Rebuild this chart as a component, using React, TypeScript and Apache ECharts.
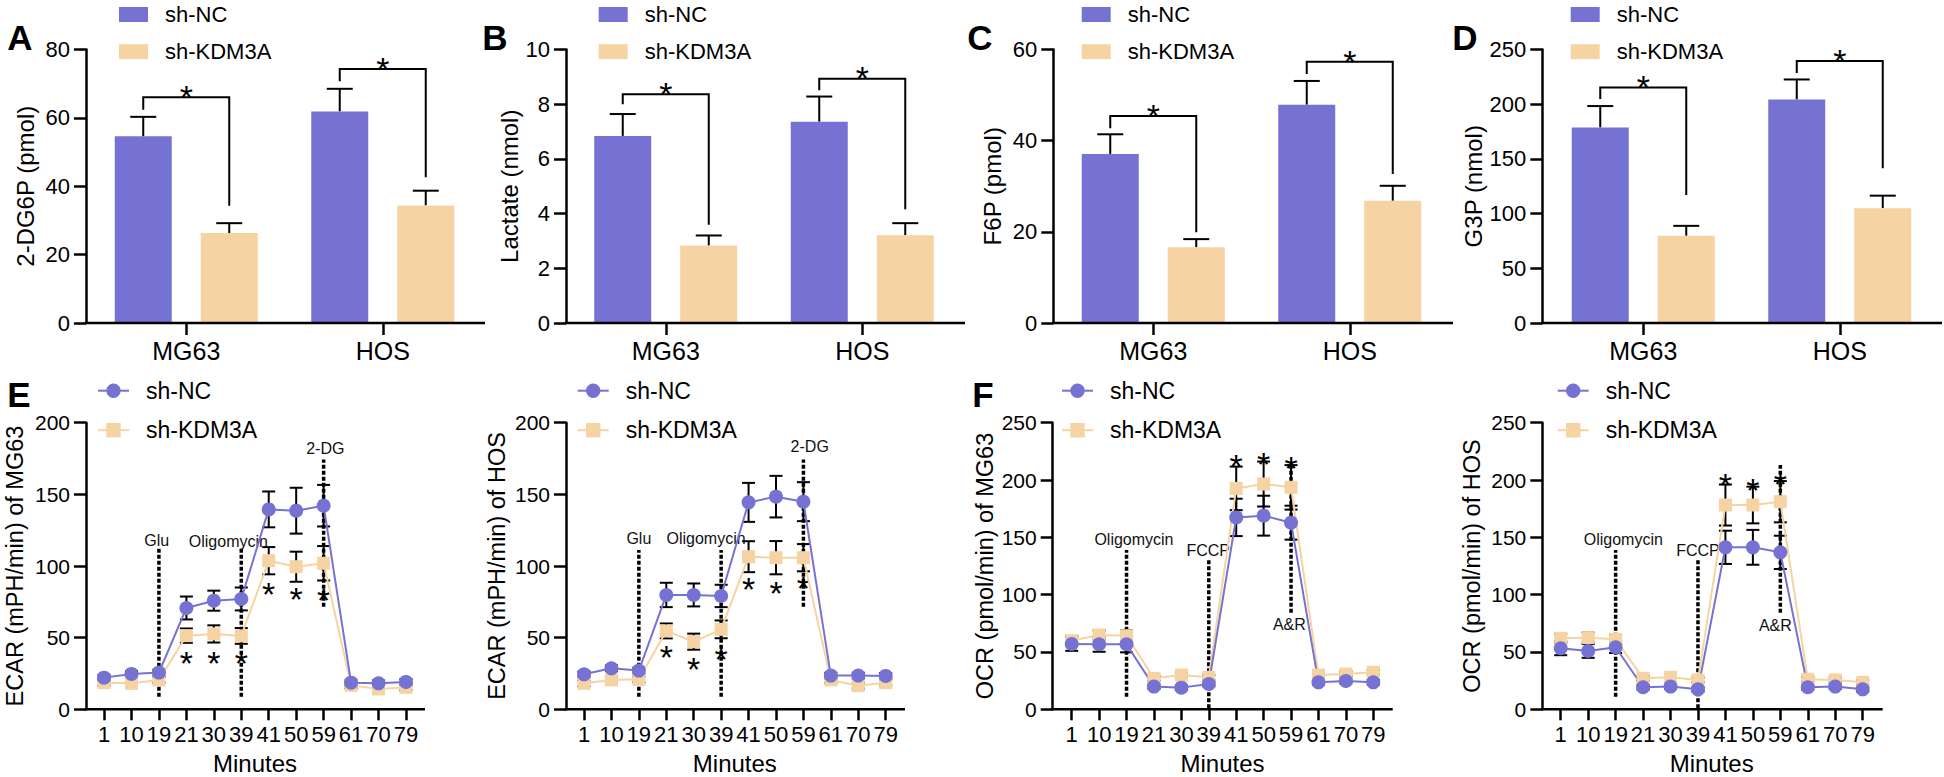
import React, { useEffect, useRef } from 'react';
import * as echarts from 'echarts';

const PURPLE = '#7672D3';
const TAN = '#F5D3A3';
const FONT = 'Arial, "Liberation Sans", Helvetica, sans-serif';
const NARROW = '"Liberation Sans Narrow", "Arial Narrow", Arial, "Liberation Sans", sans-serif';

// ---------- Bar panels (A-D) ----------
const barCats = ['MG63', 'HOS'];

const A_nc = [54.6, 61.9];
const A_ncErr = [5.7, 6.6];
const A_kd = [26.3, 34.4];
const A_kdErr = [2.9, 4.3];
const A_brLeft = [62.4, 70.7];
const A_brTop = [66.0, 74.3];
const A_brRight = [34.3, 42.6];

const B_nc = [6.84, 7.36];
const B_ncErr = [0.8, 0.92];
const B_kd = [2.83, 3.21];
const B_kdErr = [0.37, 0.44];
const B_brLeft = [8.0, 8.51];
const B_brTop = [8.36, 8.93];
const B_brRight = [3.59, 4.16];

const C_nc = [37.1, 47.9];
const C_ncErr = [4.3, 5.2];
const C_kd = [16.6, 26.8];
const C_kdErr = [1.8, 3.3];
const C_brLeft = [42.7, 54.6];
const C_brTop = [45.4, 57.3];
const C_brRight = [19.9, 32.7];

const D_nc = [178.8, 204.4];
const D_ncErr = [19.5, 18.2];
const D_kd = [79.7, 104.9];
const D_kdErr = [9.1, 11.5];
const D_brLeft = [204.7, 228.6];
const D_brTop = [215.3, 239.6];
const D_brRight = [117.1, 141.4];

// ---------- Line panels (E, F) ----------
const minutes = ['1', '10', '19', '21', '30', '39', '41', '50', '59', '61', '70', '79'];

const E1_nc = [22.1, 24.7, 25.6, 70.7, 75.8, 77.0, 139.5, 138.6, 142.1, 18.6, 18.1, 19.1];
const E1_ncErr = [2, 2, 2, 8, 7, 8, 12.5, 16, 14.5, 2, 2, 2];
const E1_kd = [18.6, 18.1, 20.5, 51.4, 52.6, 51.2, 103.7, 99.5, 101.9, 16.7, 14.2, 15.3];
const E1_kdErr = [2, 2, 2, 5, 6, 5.5, 9.5, 10.5, 12, 2, 2, 2];
const E1_stars = [null, null, null, 37.9, 37.9, 37.9, 85.6, 82.1, 82.0, null, null, null];
const E1_vIdx = [2, 5, 8];
const E1_vFrom = [8.8, 8.8, 71.6];
const E1_vTo = [112.3, 112.3, 174.4];
const E1_labText = ['Glu', 'Oligomycin', '2-DG'];
const E1_labX = [1.92, 4.53, 8.06];
const E1_labY = [117.7, 117.0, 182.0];

const E2_nc = [24.4, 28.6, 27.0, 79.8, 79.8, 79.1, 144.4, 148.4, 144.9, 23.5, 23.5, 23.3];
const E2_ncErr = [2, 2, 2, 8.5, 8, 7.8, 13.6, 14.5, 13.6, 2, 2, 2];
const E2_kd = [18.1, 20.5, 20.9, 54.7, 47.2, 55.8, 106.5, 105.8, 105.8, 20.5, 16.5, 18.6];
const E2_kdErr = [2, 2, 2, 5.2, 5.6, 6.2, 10.8, 11.6, 9.5, 2, 2, 2];
const E2_stars = [null, null, null, 41.9, 33.3, 40.2, 89.0, 86.7, 90.2, null, null, null];
const E2_vIdx = [2, 5, 8];
const E2_vFrom = [8.8, 8.8, 71.6];
const E2_vTo = [111.2, 111.2, 174.4];
const E2_labText = ['Glu', 'Oligomycin', '2-DG'];
const E2_labX = [2.0, 4.45, 8.23];
const E2_labY = [119.3, 119.3, 183.3];

const F1_nc = [57.0, 56.7, 56.7, 19.8, 18.9, 22.1, 167.4, 168.9, 162.8, 23.5, 24.7, 23.5];
const F1_ncErr = [6, 6.5, 7, 2, 2, 2, 16.3, 17.4, 14.8, 2, 2, 2];
const F1_kd = [59.9, 64.8, 64.2, 27.0, 29.9, 27.9, 192.7, 196.5, 193.6, 29.9, 30.8, 32.3];
const F1_kdErr = [4, 4, 5, 2, 2, 2, 19, 19.6, 19.4, 2, 2, 2];
const F1_stars = [null, null, null, null, null, null, 218.6, 220.9, 217.4, null, null, null];
const F1_vIdx = [2, 5, 8];
const F1_vFrom = [11, 0.9, 84.3];
const F1_vTo = [139, 130.2, 213];
const F1_labText = ['Oligomycin', 'FCCP', 'A&R'];
const F1_labX = [2.27, 4.98, 7.94];
const F1_labY = [148.5, 138.4, 74.1];

const F2_nc = [53.2, 50.9, 54.1, 19.2, 19.8, 17.4, 141.3, 141.3, 136.9, 19.2, 19.8, 17.4];
const F2_ncErr = [6, 6, 5, 2, 2, 2, 14.5, 15.2, 14.5, 2, 2, 2];
const F2_kd = [61.9, 62.5, 61.0, 27.0, 27.9, 25.6, 178.2, 178.2, 181.1, 26.2, 25.6, 23.5];
const F2_kdErr = [4, 4.5, 4, 2, 2, 2, 17.9, 16, 18, 2, 2, 2];
const F2_stars = [null, null, null, null, null, null, 202.3, 197.7, 202.9, null, null, null];
const F2_vIdx = [2, 5, 8];
const F2_vFrom = [11, 0.9, 84.3];
const F2_vTo = [139, 130.2, 213];
const F2_labText = ['Oligomycin', 'FCCP', 'A&R'];
const F2_labX = [2.28, 5.0, 7.82];
const F2_labY = [148.5, 138.4, 73.5];

// ---------- layout constants ----------
const AXIS_W = 2.5;
const BAR_W = 57;
const BAR_GAP_PX = 29;
const BAR_OFF = (BAR_W + BAR_GAP_PX) / 2;
const CAP_BAR = 26;
const CAP_LINE = 13;
const STAR_FS = 34;
const STAR_SHIFT = STAR_FS * 0.227; // asterisk glyph sits above the central baseline

const barPanels = [
  { left: 88, yOff: 2, ext: 4, max: 80, interval: 20, yName: '2-DG6P (pmol)', nameGap: 49, legendLeft: 119,
    nc: A_nc, ncErr: A_ncErr, kd: A_kd, kdErr: A_kdErr, brL: A_brLeft, brT: A_brTop, brR: A_brRight },
  { left: 567.5, yOff: 1.5, ext: 4.5, max: 10, interval: 2, yName: 'Lactate (nmol)', nameGap: 41, legendLeft: 598.7,
    nc: B_nc, ncErr: B_ncErr, kd: B_kd, kdErr: B_kdErr, brL: B_brLeft, brT: B_brTop, brR: B_brRight },
  { left: 1055, yOff: 1.7, ext: 5, max: 60, interval: 20, yName: 'F6P (pmol)', nameGap: 49, legendLeft: 1081.7,
    nc: C_nc, ncErr: C_ncErr, kd: C_kd, kdErr: C_kdErr, brL: C_brLeft, brT: C_brTop, brR: C_brRight },
  { left: 1545, yOff: 2.7, ext: 4, max: 250, interval: 50, yName: 'G3P (nmol)', nameGap: 55, legendLeft: 1570.7,
    nc: D_nc, ncErr: D_ncErr, kd: D_kd, kdErr: D_kdErr, brL: D_brLeft, brT: D_brTop, brR: D_brRight },
];

const linePanels = [
  { left: 90.3, width: 329.4, yOff: 4.3, ext: 5.3, max: 200, yName: 'ECAR (mPH/min) of MG63', nameGap: 59, legendLeft: 97,
    nc: E1_nc, ncErr: E1_ncErr, kd: E1_kd, kdErr: E1_kdErr, stars: E1_stars,
    vIdx: E1_vIdx, vFrom: E1_vFrom, vTo: E1_vTo, labText: E1_labText, labX: E1_labX, labY: E1_labY },
  { left: 570.3, width: 329.1, yOff: 4.3, ext: 5.6, max: 200, yName: 'ECAR (mPH/min) of HOS', nameGap: 57, legendLeft: 576.7,
    nc: E2_nc, ncErr: E2_ncErr, kd: E2_kd, kdErr: E2_kdErr, stars: E2_stars,
    vIdx: E2_vIdx, vFrom: E2_vFrom, vTo: E2_vTo, labText: E2_labText, labX: E2_labX, labY: E2_labY },
  { left: 1058, width: 329, yOff: 5.3, ext: 5.7, max: 250, yName: 'OCR (pmol/min) of MG63', nameGap: 56, legendLeft: 1061,
    nc: F1_nc, ncErr: F1_ncErr, kd: F1_kd, kdErr: F1_kdErr, stars: F1_stars,
    vIdx: F1_vIdx, vFrom: F1_vFrom, vTo: F1_vTo, labText: F1_labText, labX: F1_labX, labY: F1_labY },
  { left: 1547, width: 329.4, yOff: 4.7, ext: 6.3, max: 250, yName: 'OCR (pmol/min) of HOS', nameGap: 58, legendLeft: 1556.7,
    nc: F2_nc, ncErr: F2_ncErr, kd: F2_kd, kdErr: F2_kdErr, stars: F2_stars,
    vIdx: F2_vIdx, vFrom: F2_vFrom, vTo: F2_vTo, labText: F2_labText, labX: F2_labX, labY: F2_labY },
];

const panelLetters = [
  { t: 'A', x: 20, y: 37.5 }, { t: 'B', x: 495, y: 37.5 }, { t: 'C', x: 980, y: 37.5 },
  { t: 'D', x: 1465, y: 37.5 }, { t: 'E', x: 19, y: 394 }, { t: 'F', x: 983, y: 394 },
];

const black = { stroke: '#000', lineWidth: 2 };

function axisLineSeries(idx: number, yOff: number, ext: number) {
  return {
    type: 'custom', xAxisIndex: idx, yAxisIndex: idx, silent: true, clip: false, z: 5,
    data: [[0, 0]],
    renderItem: (params: any) => {
      const cs = params.coordSys;
      const y = cs.y + cs.height;
      return { type: 'line', shape: { x1: cs.x - yOff - AXIS_W / 2, y1: y, x2: cs.x + cs.width + ext, y2: y },
        style: { stroke: '#000', lineWidth: AXIS_W } };
    },
  };
}

function buildOption() {
  const grid: any[] = [];
  const xAxis: any[] = [];
  const yAxis: any[] = [];
  const series: any[] = [];
  const legend: any[] = [];

  const yAxisBase = (idx: number, p: any, labelFs: number, nameFs: number, interval: number) => ({
    type: 'value', gridIndex: idx, min: 0, max: p.max, interval, offset: p.yOff,
    axisLine: { show: true, lineStyle: { color: '#000', width: AXIS_W } },
    axisTick: { show: true, length: 12, lineStyle: { color: '#000', width: AXIS_W } },
    axisLabel: { fontSize: labelFs, margin: 16, color: '#000', fontFamily: FONT },
    splitLine: { show: false },
    name: p.yName, nameLocation: 'middle', nameGap: p.nameGap,
    nameTextStyle: { fontSize: nameFs, color: '#000', fontFamily: FONT },
  });

  barPanels.forEach((p) => {
    const idx = grid.length;
    grid.push({ left: p.left, top: 49.5, width: 393, height: 273.5 });
    xAxis.push({
      type: 'category', gridIndex: idx, data: barCats, boundaryGap: true,
      axisLine: { show: false },
      axisTick: { show: true, alignWithLabel: true, length: 12, lineStyle: { color: '#000', width: AXIS_W } },
      axisLabel: { fontSize: 25, color: '#000', margin: 15, fontFamily: FONT },
    });
    yAxis.push(yAxisBase(idx, p, 22, 24, p.interval));
    series.push({ type: 'bar', name: 'sh-NC', xAxisIndex: idx, yAxisIndex: idx, data: p.nc,
      barWidth: BAR_W, barGap: (BAR_GAP_PX / BAR_W * 100).toFixed(1) + '%', itemStyle: { color: PURPLE } });
    series.push({ type: 'bar', name: 'sh-KDM3A', xAxisIndex: idx, yAxisIndex: idx, data: p.kd,
      barWidth: BAR_W, barGap: (BAR_GAP_PX / BAR_W * 100).toFixed(1) + '%', itemStyle: { color: TAN } });
    const errData = p.nc.map((v, i) => [i, v, p.ncErr[i], -1]).concat(p.kd.map((v, i) => [i, v, p.kdErr[i], 1]));
    series.push({
      type: 'custom', xAxisIndex: idx, yAxisIndex: idx, silent: true, data: errData,
      renderItem: (params: any, api: any) => {
        const i = api.value(0), v = api.value(1), e = api.value(2), s = api.value(3);
        const p0 = api.coord([i, v]);
        const p1 = api.coord([i, v + e]);
        const x = p0[0] + s * BAR_OFF;
        return { type: 'group', children: [
          { type: 'line', shape: { x1: x, y1: p0[1], x2: x, y2: p1[1] }, style: black },
          { type: 'line', shape: { x1: x - CAP_BAR / 2, y1: p1[1], x2: x + CAP_BAR / 2, y2: p1[1] }, style: black },
        ] };
      },
    });
    series.push({
      type: 'custom', xAxisIndex: idx, yAxisIndex: idx, silent: true, clip: false,
      data: barCats.map((c, i) => [i, p.brL[i], p.brT[i], p.brR[i]]),
      renderItem: (params: any, api: any) => {
        const i = api.value(0);
        const top = api.coord([i, api.value(2)]);
        const yl = api.coord([i, api.value(1)])[1];
        const yr = api.coord([i, api.value(3)])[1];
        const xl = top[0] - BAR_OFF, xr = top[0] + BAR_OFF;
        return { type: 'group', children: [
          { type: 'polyline', shape: { points: [[xl, yl], [xl, top[1]], [xr, top[1]], [xr, yr]] },
            style: { stroke: '#000', lineWidth: 2, fill: null } },
          { type: 'text', x: (xl + xr) / 2, y: top[1] - 8 + STAR_SHIFT,
            style: { text: '*', fontSize: STAR_FS, fontFamily: FONT, fill: '#000', align: 'center', verticalAlign: 'middle' } },
        ] };
      },
    });
    series.push(axisLineSeries(idx, p.yOff, p.ext));
    legend.push({
      left: p.legendLeft, top: 2.5, padding: 0, orient: 'vertical', itemWidth: 29, itemHeight: 15, itemGap: 13.2,
      selectedMode: false,
      data: [{ name: 'sh-NC', icon: 'rect' }, { name: 'sh-KDM3A', icon: 'rect' }],
      textStyle: { fontSize: 22, color: '#000', fontFamily: FONT, lineHeight: 24, padding: [0, 0, 0, 12] },
    });
  });

  linePanels.forEach((p) => {
    const idx = grid.length;
    grid.push({ left: p.left, top: 422.7, width: p.width, height: 286.6 });
    xAxis.push({
      type: 'category', gridIndex: idx, data: minutes, boundaryGap: true,
      axisLine: { show: false },
      axisTick: { show: true, alignWithLabel: true, length: 11, lineStyle: { color: '#000', width: AXIS_W } },
      axisLabel: { fontSize: 22, color: '#000', margin: 14, interval: 0, fontFamily: NARROW },
      name: 'Minutes', nameLocation: 'middle', nameGap: 42,
      nameTextStyle: { fontSize: 24, color: '#000', fontFamily: FONT },
    });
    yAxis.push(yAxisBase(idx, p, 21, 23.5, 50));

    const errSeries = (vals: number[], errs: number[]) => ({
      type: 'custom', xAxisIndex: idx, yAxisIndex: idx, silent: true,
      data: vals.map((v, i) => [i, v, errs[i]]),
      renderItem: (params: any, api: any) => {
        const i = api.value(0), v = api.value(1), e = api.value(2);
        const t = api.coord([i, v + e]);
        const b = api.coord([i, v - e]);
        const x = t[0];
        return { type: 'group', children: [
          { type: 'line', shape: { x1: x, y1: t[1], x2: x, y2: b[1] }, style: black },
          { type: 'line', shape: { x1: x - CAP_LINE / 2, y1: t[1], x2: x + CAP_LINE / 2, y2: t[1] }, style: black },
          { type: 'line', shape: { x1: x - CAP_LINE / 2, y1: b[1], x2: x + CAP_LINE / 2, y2: b[1] }, style: black },
        ] };
      },
    });
    series.push(errSeries(p.kd, p.kdErr));
    series.push(errSeries(p.nc, p.ncErr));
    series.push({ type: 'line', name: 'sh-KDM3A [L]', xAxisIndex: idx, yAxisIndex: idx, data: p.kd,
      symbol: 'rect', symbolSize: 13, lineStyle: { color: TAN, width: 2 }, itemStyle: { color: TAN } });
    series.push({ type: 'line', name: 'sh-NC [L]', xAxisIndex: idx, yAxisIndex: idx, data: p.nc,
      symbol: 'circle', symbolSize: 14, lineStyle: { color: PURPLE, width: 2 }, itemStyle: { color: PURPLE } });
    // dashed injection lines
    series.push({
      type: 'custom', xAxisIndex: idx, yAxisIndex: idx, silent: true, clip: false,
      data: p.vIdx.map((x, k) => [x, p.vFrom[k], p.vTo[k]]),
      renderItem: (params: any, api: any) => {
        const a = api.coord([api.value(0), api.value(1)]);
        const b = api.coord([api.value(0), api.value(2)]);
        return { type: 'line', shape: { x1: a[0], y1: a[1], x2: b[0], y2: b[1] },
          style: { stroke: '#000', lineWidth: 3.5, lineDash: [4, 2] } };
      },
    });
    // injection labels
    series.push({
      type: 'custom', xAxisIndex: idx, yAxisIndex: idx, silent: true, clip: false,
      data: p.labX.map((x, k) => [Math.floor(x), p.labY[k]]),
      renderItem: (params: any, api: any) => {
        const k = params.dataIndex;
        const xf = p.labX[k];
        const i0 = Math.floor(xf);
        const a = api.coord([i0, p.labY[k]]);
        const b = api.coord([i0 + 1, p.labY[k]]);
        const x = a[0] + (b[0] - a[0]) * (xf - i0);
        return { type: 'text', x, y: a[1],
          style: { text: p.labText[k], fontSize: 16, fontFamily: FONT, fill: '#111', align: 'center', verticalAlign: 'middle' } };
      },
    });
    // significance stars
    const starData: number[][] = [];
    p.stars.forEach((s, i) => { if (s != null) starData.push([i, s as number]); });
    series.push({
      type: 'custom', xAxisIndex: idx, yAxisIndex: idx, silent: true, clip: false, data: starData,
      renderItem: (params: any, api: any) => {
        const c = api.coord([api.value(0), api.value(1)]);
        return { type: 'text', x: c[0], y: c[1] + STAR_SHIFT,
          style: { text: '*', fontSize: STAR_FS, fontFamily: FONT, fill: '#000', align: 'center', verticalAlign: 'middle' } };
      },
    });
    series.push(axisLineSeries(idx, p.yOff, p.ext));
    legend.push({
      left: p.legendLeft, top: 378.7, padding: 0, orient: 'vertical', itemWidth: 31, itemHeight: 18, itemGap: 15.5,
      selectedMode: false,
      data: ['sh-NC [L]', 'sh-KDM3A [L]'],
      formatter: (n: string) => n.replace(' [L]', ''),
      textStyle: { fontSize: 23, color: '#000', fontFamily: FONT, lineHeight: 24, padding: [0, 0, 0, 12] },
    });
  });

  const graphic = panelLetters.map((l) => ({
    type: 'text', x: l.x, y: l.y, silent: true,
    style: { text: l.t, fontSize: 35, fontWeight: 'bold', fontFamily: FONT, fill: '#000', align: 'center', verticalAlign: 'middle' },
  }));

  return {
    animation: false,
    backgroundColor: '#fff',
    textStyle: { fontFamily: FONT },
    grid, xAxis, yAxis, series, legend, graphic,
  };
}

export default function App() {
  const ref = useRef<HTMLDivElement>(null);
  useEffect(() => {
    const chart = echarts.init(ref.current as HTMLDivElement, null, { renderer: 'svg' });
    chart.setOption(buildOption() as any);
    return () => chart.dispose();
  }, []);
  return (
    <div
      ref={ref}
      style={{ position: 'fixed', left: 0, top: 0, width: 1944, height: 777, background: '#fff' }}
    />
  );
}
